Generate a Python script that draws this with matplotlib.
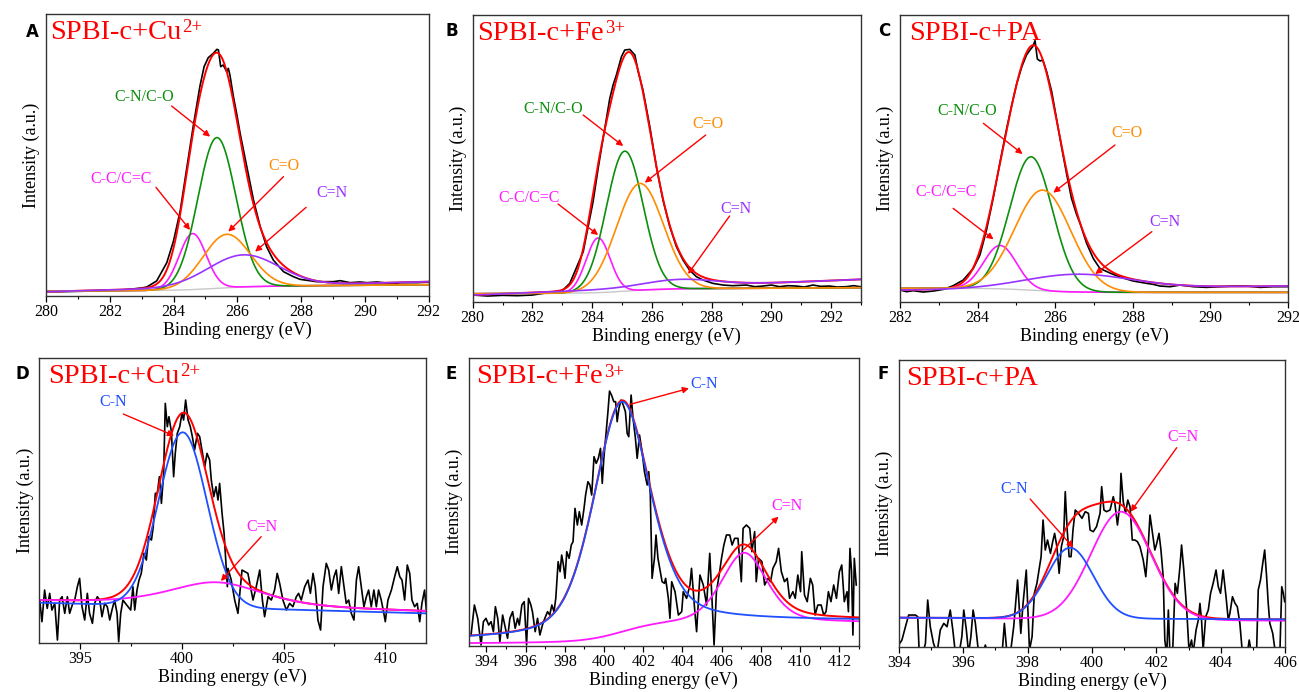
import numpy as np
import matplotlib
matplotlib.use("Agg")
import matplotlib.pyplot as plt
from matplotlib.ticker import MultipleLocator

plt.rcParams["font.family"] = ["Liberation Serif", "DejaVu Serif"]

RED = "#ff0000"
GREEN = "#0d8f0d"
ORANGE = "#ff8c00"
MAGENTA = "#ff1aff"
PURPLE = "#9933ff"
BLUE = "#1f4fff"
GREY = "#c8c8c8"

# ── A : C 1s, SPBI-c+Cu2+ ───────────────────────────────────────────
a_be = [280.0, 280.5, 281.0, 281.5, 282.0, 282.5, 283.0, 283.16, 283.47, 283.79,
        284.00, 284.21, 284.41, 284.62, 284.83, 284.96, 285.09, 285.25, 285.36, 285.41,
        285.48, 285.56, 285.67, 285.72, 285.77, 285.88, 285.98, 286.09, 286.30, 286.51,
        286.72, 286.92, 287.13, 287.45, 287.76, 287.97, 288.49, 289.02, 289.23, 289.54,
        289.85, 290.06, 290.38, 290.59, 290.90, 291.11, 291.63, 292.0]
a_cps = [13, 13, 14, 15, 17, 19, 24, 27, 45, 100,
         165, 255, 380, 510, 630, 688, 715, 728, 740, 738,
         688, 693, 673, 683, 663, 598, 548, 488, 388, 288,
         208, 148, 108, 73, 58, 50, 43, 43, 46, 40,
         42, 40, 42, 40, 36, 40, 40, 42]
# components: C-C/C=C, C-N/C-O, C=O, C=N
a_pos = [284.60, 285.36, 285.67, 286.20]
a_high = [168, 452, 160, 95]
a_fwhm = [1.00, 1.40, 1.75, 2.60]
a_bg = [14, 24, 10]        # line start, line end, Shirley step
a_bg_cn = [13, 43]         # sloped line under C=N

# ── B : C 1s, SPBI-c+Fe3+ ───────────────────────────────────────────
b_be = [280.0, 280.5, 281.0, 281.5, 282.0, 282.5, 283.0, 283.25, 283.70, 284.03,
        284.20, 284.31, 284.59, 284.70, 284.81, 284.98, 285.09, 285.26, 285.43, 285.54,
        285.70, 285.93, 286.15, 286.37, 286.60, 286.82, 287.04, 287.26, 287.49, 287.71,
        288.04, 288.38, 288.70, 289.16, 289.45, 289.72, 290.00, 290.27, 290.55, 290.83,
        291.10, 291.39, 291.65, 291.94, 292.20, 292.50, 292.75, 292.98]
b_cps = [20, 17, 19, 18, 20, 27, 33, 55, 150, 300,
         400, 460, 610, 650, 680, 735, 755, 757, 740, 690,
         635, 525, 405, 305, 225, 165, 125, 95, 75, 65,
         55, 50, 48, 50, 45, 47, 50, 45, 48, 47,
         44, 50, 46, 47, 44, 45, 48, 45]
b_pos = [284.20, 285.09, 285.60, 286.90]
b_high = [164, 420, 320, 22]
b_fwhm = [0.95, 1.45, 1.85, 2.80]
b_bg = [24, 30, 12]
b_bg_cn = [20, 67]

# ── C : C 1s, SPBI-c+PA ─────────────────────────────────────────────
c_be = [282.00, 282.17, 282.34, 282.60, 282.86, 283.12, 283.37, 283.63, 283.89, 284.06,
        284.23, 284.41, 284.58, 284.75, 284.88, 285.01, 285.14, 285.26, 285.35, 285.42,
        285.48, 285.54, 285.61, 285.68, 285.78, 285.91, 286.04, 286.17, 286.30, 286.42,
        286.55, 286.64, 286.81, 286.98, 287.15, 287.41, 287.67, 288.01, 288.36, 288.53,
        288.70, 288.96, 289.22, 289.56, 289.90, 290.25, 290.59, 290.93, 291.28, 291.62,
        292.00]
c_cps = [35, 30, 33, 29, 32, 37, 48, 65, 100, 140,
         215, 315, 420, 520, 590, 655, 705, 740, 755, 765,
         783, 728, 722, 725, 690, 630, 545, 460, 380, 310,
         262, 235, 175, 130, 100, 86, 74, 62, 55, 52,
         47, 45, 50, 45, 43, 45, 47, 47, 43, 45,
         45]
c_pos = [284.58, 285.38, 285.68, 286.55]
c_high = [130, 400, 302, 42]
c_fwhm = [1.00, 1.30, 1.70, 3.20]
c_bg = [40, 40, -12]
c_bg_cn = [35, 47]

# ── D : N 1s, SPBI-c+Cu2+ ───────────────────────────────────────────
d_be = [393.02, 393.13, 393.26, 393.39, 393.51, 393.62, 393.76, 393.89, 394.00, 394.12,
        394.25, 394.38, 394.49, 394.62, 394.74, 394.87, 394.98, 395.10, 395.23, 395.36,
        395.47, 395.61, 395.72, 395.85, 395.97, 396.08, 396.21, 396.34, 396.46, 396.57,
        396.70, 396.82, 396.90, 397.00, 397.11, 397.23, 397.36, 397.49, 397.60, 397.69,
        397.80, 397.90, 398.01, 398.14, 398.26, 398.37, 398.51, 398.60, 398.70, 398.80,
        398.90, 399.00, 399.11, 399.19, 399.29, 399.37, 399.49, 399.60, 399.68, 399.78,
        399.90, 400.01, 400.09, 400.19, 400.31, 400.42, 400.52, 400.63, 400.77, 400.88,
        400.99, 401.13, 401.24, 401.37, 401.45, 401.57, 401.68, 401.78, 401.86, 401.98,
        402.08, 402.16, 402.24,
        402.27, 402.43, 402.60, 402.76, 402.96, 403.25, 403.50, 403.66, 403.83, 403.96,
        404.07, 404.24, 404.40, 404.56, 404.69, 404.81, 404.97, 405.14, 405.30, 405.46,
        405.63, 405.74, 405.87, 406.04, 406.20, 406.32, 406.45, 406.56, 406.69, 406.82,
        406.94, 407.10, 407.22, 407.35, 407.48, 407.59, 407.71, 407.84, 407.97, 408.08,
        408.20, 408.33, 408.46, 408.58, 408.69, 408.82, 408.95, 409.07, 409.18, 409.31,
        409.44, 409.56, 409.67, 409.80, 409.93, 410.00, 410.13, 410.30, 410.46, 410.59,
        410.71, 410.82, 410.95, 411.08, 411.20, 411.31, 411.44, 411.57, 411.69, 411.80,
        411.93, 412.03]
d_cps = [128, 63, 158, 103, 148, 98, 118, 8, 128, 138,
         88, 138, 88, 113, 128, 168, 193, 108, 68, 148,
         88, 58, 118, 138, 128, 78, 118, 108, 68, 98,
         128, 88, 3, 88, 128, 118, 108, 98, 168, 98,
         158, 188, 208, 268, 248, 318, 308, 348, 448, 448,
         498, 418, 508, 718, 648, 678, 633, 498, 568, 628,
         648, 688, 668, 728, 668, 648, 618, 578, 628, 618,
         578, 528, 568, 548, 488, 438, 468, 428, 478, 388,
         328, 248, 168,
         223, 188, 128, 88, 218, 208, 128, 168, 218, 128,
         78, 138, 128, 158, 208, 178, 128, 98, 118, 108,
         138, 148, 128, 168, 188, 148, 208, 168, 68, 38,
         168, 238, 218, 158, 198, 218, 148, 228, 168, 118,
         128, 88, 68, 188, 228, 168, 108, 138, 158, 108,
         158, 108, 158, 128, 88, 63, 128, 158, 198, 228,
         198, 188, 128, 233, 208, 128, 108, 118, 63, 118,
         158, 88]
# components: C-N, C=N
d_pos = [400.05, 401.70]
d_high = [523, 71]
d_fwhm = [2.80, 5.50]
d_mix = [0.0, 0.5]
d_bg = [[120, 88, 0], [125, 93, 0]]

# ── E : N 1s, SPBI-c+Fe3+ ───────────────────────────────────────────
e_be = [393.22, 393.39, 393.56, 393.73, 393.85, 393.98, 394.12, 394.24, 394.36, 394.46,
        394.58, 394.69, 394.83, 394.97, 395.08, 395.20, 395.34, 395.47, 395.59, 395.68,
        395.81, 395.93, 396.05, 396.15, 396.27, 396.35, 396.49, 396.61, 396.73, 396.86,
        396.98, 397.12, 397.23, 397.34, 397.45, 397.54, 397.66, 397.76, 397.84, 397.93,
        398.01, 398.10, 398.22, 398.33, 398.42, 398.52, 398.64, 398.74, 398.86, 398.98,
        399.06, 399.18, 399.28, 399.37, 399.49, 399.60, 399.71, 399.82, 399.91, 399.99,
        400.08, 400.20, 400.28, 400.38, 400.50, 400.59, 400.67, 400.76, 400.87, 400.98,
        401.09, 401.18, 401.26, 401.38, 401.48, 401.60, 401.69, 401.81, 401.94, 402.06,
        402.20, 402.28, 402.36, 402.45, 402.57, 402.65, 402.75, 402.87, 402.96, 403.08,
        403.14, 403.28, 403.36, 403.45, 403.62, 403.79, 403.96, 404.04, 404.21, 404.38,
        404.46, 404.63, 404.72, 404.89, 405.06, 405.23, 405.39, 405.51, 405.61, 405.73,
        405.87, 405.99, 406.11, 406.24, 406.41, 406.53, 406.66, 406.83, 407.00, 407.09,
        407.26, 407.43, 407.54, 407.68, 407.76, 407.88, 408.05, 408.19, 408.36, 408.49,
        408.61, 408.78, 408.90, 409.04, 409.20, 409.34, 409.46, 409.63, 409.75, 409.88,
        410.02, 410.08, 410.22, 410.36, 410.52, 410.64, 410.76, 410.90, 411.07, 411.20,
        411.32, 411.44, 411.57, 411.71, 411.85, 412.00, 412.12, 412.25, 412.39, 412.46,
        412.54, 412.62, 412.69, 412.76, 412.86]
e_cps = [33, 123, 83, 3, 73, 83, 63, 73, 43, 118,
         83, 13, 93, 53, 23, 83, 103, 53, 83, 63,
         123, 133, 3, 143, 123, 103, 43, 83, 33, 63,
         83, 103, 93, 123, 103, 143, 253, 223, 273, 243,
         203, 283, 263, 303, 313, 413, 363, 403, 363, 413,
         453, 493, 483, 453, 568, 548, 563, 593, 488, 563,
         623, 703, 765, 753, 733, 733, 673, 713, 738, 723,
         703, 638, 628, 753, 683, 623, 563, 633, 583, 523,
         483, 523, 453, 203, 263, 333, 263, 223, 193, 188,
         203, 143, 83, 193, 163, 93, 103, 163, 143, 183,
         233, 103, 43, 213, 183, 123, 278, 133, 3, 163,
         213, 263, 303, 333, 333, 303, 323, 323, 193, 353,
         363, 353, 283, 343, 193, 263, 253, 183, 203, 193,
         233, 253, 293, 223, 193, 203, 143, 163, 143, 213,
         163, 283, 153, 133, 203, 183, 93, 123, 123, 93,
         103, 163, 133, 183, 143, 223, 243, 133, 163, 103,
         293, 223, 33, 263, 183]
e_pos = [400.90, 407.15]
e_high = [686, 211]
e_fwhm = [3.40, 2.75]
e_mix = [0.4, 0.4]
e_bg = [[18, 18, 58], [8, 8, 62]]

# ── F : N 1s, SPBI-c+PA ─────────────────────────────────────────────
f_be = [394.00, 394.10, 394.21, 394.31, 394.41, 394.52, 394.59, 394.64, 394.72, 394.83,
        394.90, 394.98, 395.08, 395.19, 395.29, 395.40, 395.50, 395.60, 395.68, 395.76,
        395.86, 395.96, 396.02, 396.10, 396.17, 396.24, 396.31, 396.38, 396.48, 396.58,
        396.69, 396.79, 396.95, 397.10, 397.21, 397.28, 397.36, 397.46, 397.57, 397.69,
        397.79, 397.86, 397.96, 398.06, 398.14, 398.21, 398.29, 398.42, 398.48, 398.55,
        398.62, 398.71, 398.78, 398.84, 398.91, 398.98, 399.05, 399.12, 399.17, 399.23,
        399.29, 399.35, 399.41, 399.48, 399.58, 399.69, 399.79, 399.89,
        399.94, 400.04, 400.14, 400.25, 400.30, 400.37, 400.45, 400.56, 400.66, 400.71,
        400.79, 400.87, 400.90, 400.97, 401.04, 401.11, 401.18, 401.25, 401.33, 401.41,
        401.49, 401.59, 401.67, 401.75, 401.80, 401.88, 401.95, 402.01, 402.08, 402.14,
        402.21, 402.26, 402.32, 402.37, 402.42, 402.50, 402.58, 402.65, 402.73, 402.78,
        402.85, 402.94, 403.01, 403.09, 403.14, 403.23, 403.30, 403.35, 403.40, 403.45,
        403.53, 403.61, 403.68, 403.76, 403.85, 403.92, 403.99, 404.07, 404.16, 404.23,
        404.28, 404.36, 404.44, 404.51, 404.59, 404.66, 404.75, 404.82, 404.88, 404.95,
        405.03, 405.11, 405.16, 405.23, 405.30, 405.36, 405.42, 405.47, 405.52, 405.61,
        405.68, 405.75, 405.83, 405.89, 405.94, 405.98]
f_cps = [5, 20, 60, 95, 95, 95, 90, -25, -30, 10,
         140, 60, 10, -20, 50, 70, 60, 110, 50, -20,
         -30, 30, 110, 50, -20, 30, 110, 70, -20, -30,
         5, -30, -30, -30, -20, 70, -20, -25, 60, 200,
         40, 130, 230, -10, 30, 160, 190, 270, 380, 290,
         320, 280, 315, 340, 300, 220, 300, 330, 465, 350,
         270, 270, 350, 410, 400, 385, 405, 400,
         350, 345, 360, 400, 480, 410, 405, 410, 450, 430,
         365, 430, 520, 435, 400, 440, 420, 320, 320, 315,
         300, 260, 210, 310, 395, 340, 290, 310, 340, 290,
         210, 20, -25, 110, -25, -25, 190, 160, 240, 305,
         230, 110, -10, 20, -20, 50, 80, 130, 80, -10,
         90, 110, 160, 190, 230, 180, 160, 230, 150, 80,
         100, 150, 130, 120, 70, -10, -25, -20, 20, -20,
         -25, -10, 170, 200, 250, 290, 210, 130, 70, 40,
         -10, -25, -25, 180, 160, 135]
f_pos = [399.32, 400.90]
f_high = [212, 323]
f_fwhm = [1.70, 2.20]
f_mix = [0.0, 0.0]
f_bg = [[87, 82, 0], [87, 78, 0]]

titles = ["SPBI-c+Cu", "SPBI-c+Fe", "SPBI-c+PA"] * 2
charges = ["2+", "3+", ""] * 2


def pv(x, c, h, w, m=0.0):
    u = (x - c) / w
    return h * (m / (1 + 4 * u ** 2) + (1 - m) * np.exp(-4 * np.log(2) * u ** 2))


def lin(x, y0, y1):
    return y0 + (y1 - y0) * (x - x[0]) / (x[-1] - x[0])


def shirley(x, p, y0, y1, step):
    cum = np.cumsum(p)
    return lin(x, y0, y1) + step * cum / cum[-1]


def style_axes(ax, xlim, ylim, major, minor):
    ax.set_xlim(*xlim)
    ax.set_ylim(*ylim)
    ax.xaxis.set_major_locator(MultipleLocator(major))
    ax.xaxis.set_minor_locator(MultipleLocator(minor))
    ax.set_yticks([])
    ax.tick_params(axis="x", which="major", direction="out", length=4, width=0.9,
                   labelsize=11.5, pad=2, top=False)
    ax.tick_params(axis="x", which="minor", direction="out", length=2.5, width=0.8, top=False)
    for s in ax.spines.values():
        s.set_linewidth(1.0)
        s.set_color("#333333")
    ax.set_xlabel("Binding energy (eV)", fontsize=13, labelpad=1)
    ax.set_ylabel("Intensity (a.u.)", fontsize=13, labelpad=4)


def c1s(ax, xlim, be, cps, pos, high, fwhm, bg, bg_cn):
    x = np.linspace(xlim[0], xlim[1], 800)
    peaks = [pv(x, c, h, w) for c, h, w in zip(pos, high, fwhm)]
    base = shirley(x, sum(peaks), *bg)
    base_cn = lin(x, *bg_cn)
    ax.plot(x, base, color=GREY, lw=1.0)
    ax.plot(be, cps, color="black", lw=1.2)
    ax.plot(x, base_cn + sum(peaks), color=RED, lw=1.4)
    for p, col in zip(peaks[:3], [MAGENTA, GREEN, ORANGE]):
        ax.plot(x, base + p, color=col, lw=1.2)
    ax.plot(x, base_cn + peaks[3], color=PURPLE, lw=1.2)


def n1s(ax, xlim, be, cps, pos, high, fwhm, mix, bgs, env):
    x = np.linspace(xlim[0], xlim[1], 800)
    peaks = [pv(x, c, h, w, m) for c, h, w, m in zip(pos, high, fwhm, mix)]
    bases = [shirley(x, peaks[0], *bg) for bg in bgs]
    ax.plot(be, cps, color="black", lw=1.2)
    ax.plot(x, bases[env] + sum(peaks), color=RED, lw=1.4)
    ax.plot(x, bases[1] + peaks[1], color=MAGENTA, lw=1.3)
    ax.plot(x, bases[0] + peaks[0], color=BLUE, lw=1.3)


def note(ax, text, xy, color, tail, head, fs=11.5):
    ax.text(xy[0], xy[1], text, color=color, fontsize=fs, ha="center", va="center")
    ax.annotate("", xy=head, xytext=tail,
                arrowprops=dict(arrowstyle="-|>", color=RED, lw=1.0,
                                mutation_scale=9, shrinkA=0, shrinkB=0))


W, H = 1299, 692
fig = plt.figure(figsize=(W / 100, H / 100), dpi=100)
fig.patch.set_facecolor("white")


def panel(px_left, px_top, px_right, px_bottom):
    return fig.add_axes([px_left / W, 1 - px_bottom / H,
                         (px_right - px_left) / W, (px_bottom - px_top) / H])


axA = panel(46, 14, 428.5, 296)
axB = panel(472.7, 14.7, 861, 301.7)
axC = panel(900, 15, 1288, 301.7)
axD = panel(39.3, 357.7, 426, 642.7)
axE = panel(468.7, 357.7, 859, 646)
axF = panel(898.7, 360, 1285.3, 646.7)

# C 1s
c1s(axA, (280, 292), a_be, a_cps, a_pos, a_high, a_fwhm, a_bg, a_bg_cn)
style_axes(axA, (280, 292), (0, 846), 2, 1)
note(axA, "C-N/C-O", (283.08, 596), GREEN, (283.94, 570), (285.15, 478))
note(axA, "C-C/C=C", (282.37, 350), MAGENTA, (283.45, 326), (284.52, 198))
note(axA, "C=O", (287.47, 390), ORANGE, (287.45, 358), (285.72, 193))
note(axA, "C=N", (288.96, 308), PURPLE, (288.16, 266), (286.56, 133))

c1s(axB, (280, 293), b_be, b_cps, b_pos, b_high, b_fwhm, b_bg, b_bg_cn)
style_axes(axB, (280, 293), (0, 861), 2, 1)
note(axB, "C-N/C-O", (282.70, 577), GREEN, (283.70, 560), (285.04, 467))
note(axB, "C-C/C=C", (281.89, 311), MAGENTA, (282.86, 293), (284.20, 200))
note(axB, "C=O", (287.88, 533), ORANGE, (287.80, 500), (285.76, 357))
note(axB, "C=N", (288.80, 278), PURPLE, (288.60, 257), (287.21, 83))

c1s(axC, (282, 292), c_be, c_cps, c_pos, c_high, c_fwhm, c_bg, c_bg_cn)
style_axes(axC, (282, 292), (0, 860), 2, 1)
note(axC, "C-N/C-O", (283.72, 573), GREEN, (284.15, 535), (285.16, 443))
note(axC, "C-C/C=C", (283.20, 328), MAGENTA, (283.37, 280), (284.41, 187))
note(axC, "C=O", (287.84, 507), ORANGE, (287.54, 470), (285.95, 327))
note(axC, "C=N", (288.83, 238), PURPLE, (288.49, 210), (287.03, 83))

# N 1s
n1s(axD, (393, 412), d_be, d_cps, d_pos, d_high, d_fwhm, d_mix, d_bg, 1)
style_axes(axD, (393, 412), (0, 855), 5, 2.5)
note(axD, "C-N", (396.61, 723), BLUE, (397.13, 686), (399.62, 621))
note(axD, "C=N", (403.93, 348), MAGENTA, (403.90, 318), (401.92, 185))

n1s(axE, (393.1, 413), e_be, e_cps, e_pos, e_high, e_fwhm, e_mix, e_bg, 0)
style_axes(axE, (393.1, 413), (0, 865), 2, 1)
note(axE, "C-N", (405.11, 785), BLUE, (401.33, 725), (404.33, 773))
note(axE, "C=N", (409.34, 420), MAGENTA, (407.09, 288), (408.90, 388))

n1s(axF, (394, 406), f_be, f_cps, f_pos, f_high, f_fwhm, f_mix, f_bg, 0)
style_axes(axF, (394, 406), (0, 860), 2, 1)
note(axF, "C-N", (397.59, 473), BLUE, (398.08, 443), (399.42, 297))
note(axF, "C=N", (402.83, 628), MAGENTA, (402.63, 597), (401.20, 405))

# sample names (ion charge as a small raised text) and panel letters
renderer = fig.canvas.get_renderer()
title_x = [0.011, 0.011, 0.023, 0.022, 0.020, 0.018]
for ax, t, q, tx in zip([axA, axB, axC, axD, axE, axF], titles, charges, title_x):
    txt = ax.text(tx, 0.912, t, transform=ax.transAxes, color=RED, fontsize=20.5,
                  ha="left", va="baseline")
    if q:
        bb = txt.get_window_extent(renderer)
        bx, by = ax.transAxes.transform((tx, 0.912))
        fx, fy = fig.transFigure.inverted().transform((bb.x1 + 1, by + 6.5))
        fig.text(fx, fy, q, color=RED, fontsize=13.5, ha="left", va="baseline")

letters = ["A", "B", "C", "D", "E", "F"]
letter_px = [(32, 32), (452, 31), (884, 31), (22, 374), (451, 374), (883, 374)]
for lt, (lx, ly) in zip(letters, letter_px):
    fig.text(lx / W, 1 - ly / H, lt, fontsize=12, fontweight="bold",
             family="DejaVu Sans", ha="center", va="center")

fig.savefig("out.png", dpi=100, facecolor="white")
